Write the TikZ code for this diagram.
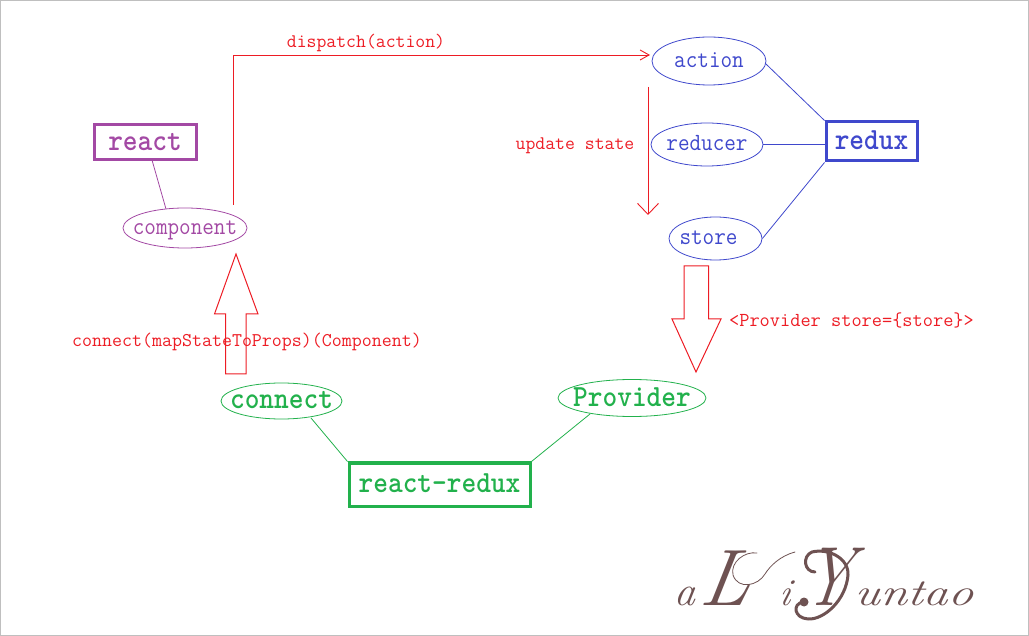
\documentclass[tikz,border=0pt]{standalone}
\usepackage{xcolor,graphicx}
\usetikzlibrary{shapes.geometric,arrows.meta}
\definecolor{rp}{HTML}{A349A4}
\definecolor{rb}{HTML}{3F48CC}
\definecolor{rg}{HTML}{22B14C}
\definecolor{rr}{HTML}{ED1C24}
\definecolor{sig}{HTML}{6E5252}
\newcommand{\fs}[1]{\ttfamily\fontsize{#1}{#1}\selectfont}
\newcommand{\zb}[1]{\smash{\makebox[0pt][c]{\raisebox{-.27em}{\scalebox{1}[1.1]{#1}}}}}
\tikzset{
 ell/.style n args={2}{ellipse,draw,line width=.8pt,minimum width=#1,minimum height=#2,inner sep=0pt},
 box/.style n args={2}{rectangle,draw,line width=3pt,minimum width=#1,minimum height=#2,inner sep=0pt,font=\fs{28}\bfseries},
 lab/.style={text=rr,font=\fs{19},inner sep=0pt},
 conn/.style={line width=.8pt},
 thin arrow/.style={rr,line width=.9pt,-{Straight Barb[length=9pt,width=10pt,line width=.9pt]}},
 wide arrow/.style={rr,line width=.9pt,-{Straight Barb[length=11pt,width=21pt,line width=.9pt]}},
 fat/.style={draw=rr,line width=1pt,line join=miter},
 sigtext/.style={text=sig,inner sep=0pt,anchor=base west,xslant=.15},
 swash/.style={draw=sig,line cap=round,line join=round},
}
\begin{document}
\begin{tikzpicture}[x=1pt,y=-1pt]
\useasboundingbox (0,0) rectangle (1029,636);
\draw[gray!50,line width=1pt] (.5,.5) rectangle (1028.5,635.5);
% nodes
\node[box={102}{35},draw=rp,text=rp] (react) at (145,142.5) {\zb{react}};
\node[ell={124}{40},draw=rp,text=rp,font=\fs{22.5}] (component) at (185,228) {\zb{component}};
\node[ell={114}{48},draw=rb,text=rb,font=\fs{22.5}] (action) at (709,61) {\raisebox{-1.5pt}{\zb{action}}};
\node[ell={112}{43},draw=rb,text=rb,font=\fs{22.5}] (reducer) at (707,144.5) {\zb{reducer}};
\node[ell={93}{43},draw=rb,text=rb,font=\fs{22.5}] (store) at (715.5,238.5) {\hspace{-14pt}\zb{store}};
\node[box={91}{39},draw=rb,text=rb] (redux) at (871.5,141.5) {\raisebox{-1.5pt}{\zb{redux}}};
\node[ell={121}{36},draw=rg,text=rg,font=\fs{28}\bfseries] (connect) at (281.5,401) {\zb{connect}};
\node[ell={148}{37},draw=rg,text=rg,font=\fs{28}\bfseries] (provider) at (632,398) {\raisebox{-1.5pt}{\zb{Provider}}};
\node[box={181}{43},draw=rg,text=rg] (rr) at (439.5,484.5) {\zb{react-redux}};
% connectors
\coordinate (reactfoot) at (152,160);
\coordinate (comphead) at (166,209);
\draw[conn,rp] (reactfoot) -- (comphead);
\draw[conn,rb] (action.-3) -- (redux.north west);
\coordinate (reduxleft) at (825,144.5);
\draw[conn,rb] (reducer.east) -- (reduxleft);
\draw[conn,rb] (store.east) -- (redux.south west);
\coordinate (connfoot) at (311,418);
\coordinate (provfoot) at (590,414);
\draw[conn,rg] (connfoot) -- (rr.north west);
\draw[conn,rg] (provfoot) -- (rr.north east);
% dispatch
\coordinate (dispstart) at (233.5,205);
\coordinate (dispcorner) at (233.5,55);
\coordinate (dispend) at (650,55);
\draw[thin arrow] (dispstart) -- (dispcorner) -- (dispend);
\coordinate (updstart) at (648,87);
\coordinate (updend) at (648,215);
\draw[wide arrow] (updstart) -- (updend);
% fat arrows
\draw[fat] (225.5,374) -- (225.5,314) -- (214.5,314) -- (236,254) -- (258,314) -- (246,314) -- (246,374) -- cycle;
\draw[fat] (684,266) -- (708.5,266) -- (708.5,319) -- (721,319) -- (696,372) -- (672,319) -- (684,319) -- cycle;
% labels
\node[lab,font=\fs{19.2}] (ldisp) at (366,42.5) {dispatch(action)};
\node[lab,font=\fs{19.2}] (lupd) at (575,146) {update state};
\node[lab,font=\fs{19.4}] (lconn) at (247,341.5) {connect(mapStateToProps)(Component)};
\node[lab,font=\fs{19.8}] (lprov) at (851.5,320.5) {<Provider store=\{store\}>};
% signature
\node[sigtext,font=\fontsize{42}{42}\selectfont\itshape] (siga) at (673,605) {a};
\node[sigtext,font=\fontsize{80}{80}\selectfont\itshape] (sigl) at (698,605) {L};
\node[sigtext,font=\fontsize{38}{38}\selectfont\itshape] (sigi) at (778,605) {i};
\node[sigtext,font=\fontsize{84}{84}\selectfont\itshape,xscale=.78] (sigy) at (800,605) {Y};
\node[sigtext,font=\fontsize{38}{38}\selectfont\itshape,xscale=1.3] (sigu) at (853,605) {untao};
\path[swash,line width=.8pt,fill=none]
 (795,552) .. controls (780,556) and (770,566) .. (765,574)
 .. controls (758,586) and (738,590) .. (733,575)
 .. controls (730,562) and (745,551) .. (757,553);
\path[swash,line width=3pt,fill=none]
 (803,602) .. controls (792,604) and (794,618) .. (808,619)
 .. controls (824,620) and (846,600) .. (848,575)
 .. controls (849,558) and (828,548) .. (812,552)
 .. controls (802,556) and (804,572) .. (815,572);
\fill[sig] (804,602) circle (4.5pt);
\end{tikzpicture}
\end{document}
